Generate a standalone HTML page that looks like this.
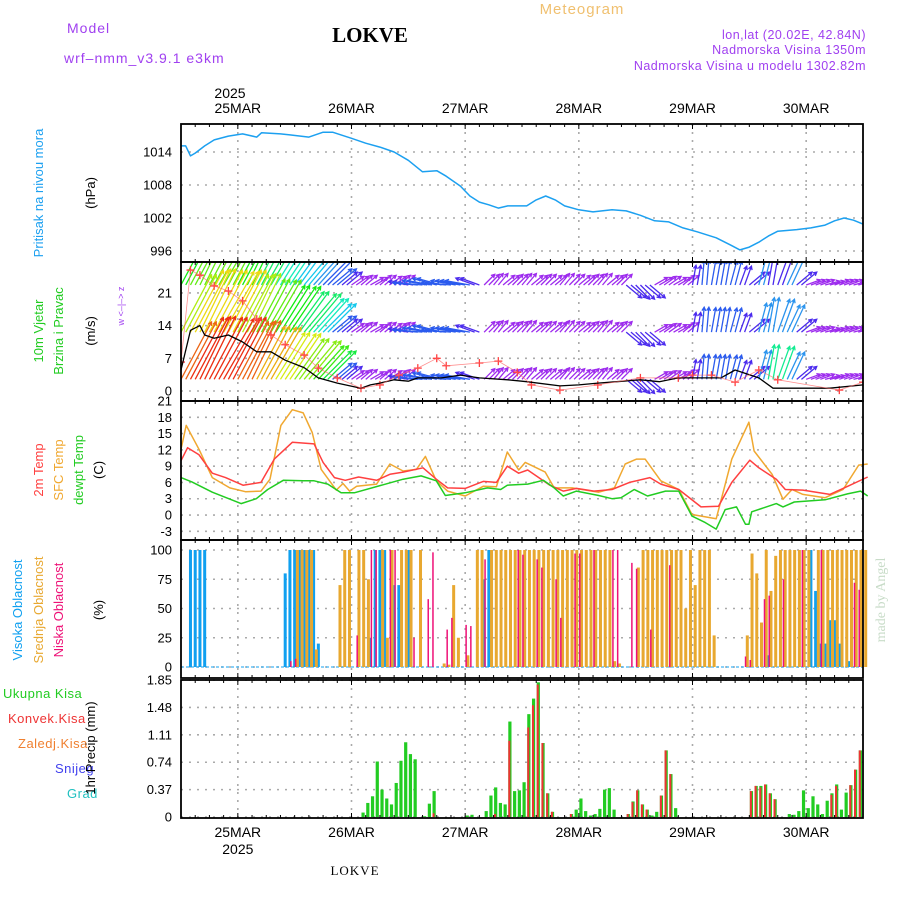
<!DOCTYPE html>
<html><head><meta charset="utf-8"><style>
html,body{margin:0;padding:0;background:#fff;}
svg{display:block;font-family:"Liberation Sans",sans-serif;}
</style></head><body>
<svg id="c" width="900" height="900" xmlns="http://www.w3.org/2000/svg">
<text x="67" y="33" fill="#a040f0" font-size="14" letter-spacing="1">Model</text>
<text x="64" y="63" fill="#a040f0" font-size="14" letter-spacing="1">wrf–nmm_v3.9.1 e3km</text>
<text x="370" y="42" text-anchor="middle" font-family="Liberation Serif,serif" font-weight="bold" font-size="21">LOKVE</text>
<text x="582" y="14" text-anchor="middle" fill="#f0c070" font-size="15" letter-spacing="1">Meteogram</text>
<text x="866" y="39" text-anchor="end" fill="#a040f0" font-size="12.5" letter-spacing="0.5">lon,lat (20.02E, 42.84N)</text>
<text x="866" y="54" text-anchor="end" fill="#a040f0" font-size="12.5" letter-spacing="0.5">Nadmorska Visina 1350m</text>
<text x="866" y="70" text-anchor="end" fill="#a040f0" font-size="12.5" letter-spacing="0.5">Nadmorska Visina u modelu 1302.82m</text>
<text x="230" y="98" text-anchor="middle" font-size="14">2025</text>
<text x="355" y="875" text-anchor="middle" font-family="Liberation Serif,serif" font-size="13" letter-spacing="1">LOKVE</text>
<text transform="translate(885,600) rotate(-90)" text-anchor="middle" fill="#c8dcc8" font-family="Liberation Serif,serif" font-size="14">made by Angel</text>

<text transform="translate(43,193) rotate(-90)" text-anchor="middle" fill="#1ca0f0" font-size="13">Pritisak na nivou mora</text>
<text transform="translate(95,193) rotate(-90)" text-anchor="middle" font-size="13">(hPa)</text>
<text transform="translate(43,331) rotate(-90)" text-anchor="middle" fill="#22cc22" font-size="13">10m Vjetar</text>
<text transform="translate(63,331) rotate(-90)" text-anchor="middle" fill="#22cc22" font-size="13">Brzina i Pravac</text>
<text transform="translate(95,331) rotate(-90)" text-anchor="middle" font-size="13">(m/s)</text>
<text transform="translate(124,306) rotate(-90)" text-anchor="middle" fill="#a040f0" font-size="9">w &lt;–|–&gt; z</text>
<text transform="translate(43,470) rotate(-90)" text-anchor="middle" fill="#ff4040" font-size="13">2m Temp</text>
<text transform="translate(63,470) rotate(-90)" text-anchor="middle" fill="#f0a830" font-size="13">SFC Temp</text>
<text transform="translate(83,470) rotate(-90)" text-anchor="middle" fill="#22cc22" font-size="13">dewpt Temp</text>
<text transform="translate(103,470) rotate(-90)" text-anchor="middle" font-size="13">(C)</text>
<text transform="translate(22,610) rotate(-90)" text-anchor="middle" fill="#10a0f0" font-size="13">Visoka Oblacnost</text>
<text transform="translate(43,610) rotate(-90)" text-anchor="middle" fill="#e8a830" font-size="13">Srednja Oblacnost</text>
<text transform="translate(63,610) rotate(-90)" text-anchor="middle" fill="#ee1177" font-size="13">Niska Oblacnost</text>
<text transform="translate(103,610) rotate(-90)" text-anchor="middle" font-size="13">(%)</text>
<text x="3" y="698" fill="#22cc22" font-size="13" letter-spacing="0.5">Ukupna Kisa</text>
<text x="8" y="723" fill="#ee3333" font-size="13" letter-spacing="0.5">Konvek.Kisa</text>
<text x="18" y="748" fill="#f08030" font-size="13" letter-spacing="0.5">Zaledj.Kisa</text>
<text x="55" y="773" fill="#4040ee" font-size="13" letter-spacing="0.5">Snijeg</text>
<text x="67" y="798" fill="#20c0c0" font-size="13" letter-spacing="0.5">Grad</text>
<text transform="translate(95,748) rotate(-90)" text-anchor="middle" font-size="13">1hr Precip (mm)</text>
<g id="plots"></g>
</svg>
<script>
// ---- data ----
const dayLabels=["25MAR","26MAR","27MAR","28MAR","29MAR","30MAR"];
const dayHours=[12,36,60,84,108,132];
const presTicks=[1014,1008,1002,996];
const presHours=[0,1,2,3,5,7,10,13,16,17,21,23,27,30,32,36,39,42,45,48,51,54,56,59,61,63,65,67,69,73,75,77,79,81,84,87,91,94,97,100,103,106,109,113,116,118,120,122,124,126,130,133,136,138,140,142,144];
const presVals=[1015.1,1015.1,1013.3,1013.8,1015.1,1016.2,1016.9,1017.3,1016.7,1017.5,1017.3,1017.1,1016.7,1017.6,1017.6,1016.5,1015.6,1014.9,1014,1012.5,1010.4,1010.6,1009.6,1007.8,1006,1004.9,1004.4,1003.8,1004.2,1004.2,1005.3,1006,1005.3,1004.2,1003.5,1003.1,1003.5,1003.3,1002.5,1001.5,1001.3,1000.2,999.5,998.4,997.1,996.2,996.7,997.6,998.7,999.6,999.9,1000.2,1000.7,1001.5,1002,1001.6,1000.9];
const windTicks=[0,7,14,21];
const spdHours=[0,2,4,5,7,10,13,16,19,22,26,29,33,38,40,42,45,48,50,55,59,63,69,73,80,84,88,92,97,101,105,108,110,114,117,122,125,130,137,144];
const spdVals=[4.5,13,14,12,11.3,12,10.5,8.4,8.4,6.6,5,2.8,1.7,0.6,1.3,1.7,2.4,2.1,2.8,2.8,3.4,2.8,2.4,2,1.1,1.3,1.7,2,2.4,2,2.8,2.8,2.8,2.8,4.5,2.8,0.6,0.6,0.6,1.3];
const gustHours=[0,2,4,7,10,13,16,19,22,26,29,33,38,42,46,50,54,56,63,67,71,74,80,88,97,105,108,112,117,122,126,139,144];
const gustVals=[6.2,25.9,24.8,22.5,21.4,19.3,15.4,12,9.9,7.7,4.9,2.8,0.6,1.3,3.4,4.9,7,5.4,6,6.4,4,1.3,0.2,1.3,2.8,2.8,3.4,3.4,1.9,4.5,2.4,0.2,1.9];
const arrowSpd=[13,14,14,14,14,14,13,13,12,12,11,11,10,10,9,8,5,4,3,3,3,3,3,3,4,5,5,5,5,5,5,4,3,3,3,3,3,3,3,3,3,3,3,3,3,3,3,4,4,4,3,3,3,3,4,5,5,5,5,4,4,6,7,7,6,4,3,3,3,3,3,3,3];
const arrowDir=[62,62,64,62,60,62,62,64,62,60,58,56,54,50,48,45,40,40,35,40,30,40,35,40,170,175,170,165,175,170,170,160,45,50,40,45,50,40,45,40,50,45,40,45,50,40,45,-40,-45,-40,30,35,30,40,80,85,80,80,75,70,40,75,80,70,65,40,20,20,15,20,20,15,20];
const tempTicks=[-3,0,3,6,9,12,15,18,21];
const t2Hours=[0,1.4,3.8,6.6,9.4,13.1,16.9,19.7,23.5,28.1,30,32.4,34.7,37.5,41.3,44.1,46.9,51.1,53.9,56.3,60,63.8,66.6,68.9,71.3,73.2,77.9,80.7,83.5,87.2,91,94.7,99,101.3,105.1,109.8,113.5,116.3,120.1,122,125.7,127.6,131.3,137,139.8,145];
const t2Vals=[10,12.4,11.1,7.7,6.9,5.5,6,10.3,13.4,13.1,9.7,6.9,6.4,7,6.4,7.5,7.9,8.7,6.6,5,4.9,6.2,6,9,7.7,8.3,5.5,4.4,4.9,4.4,4.7,6,6.9,5.7,4.7,1.5,1.6,6,10.1,8.7,6.6,4.7,4.6,3.8,4.9,7];
const sfcHours=[0,1.1,3.8,6.6,10.3,13.6,16.9,18.8,21.1,23.5,25.8,27.7,29.6,32.8,34.2,35.6,37.1,41.3,44.1,46.9,49.7,51.6,53.9,56.3,60,63.8,66.6,68.9,71.3,72.7,76.9,78.8,82.6,88.2,91.5,93.8,96.2,98,101.3,105.1,107.9,113,116.3,119.9,121,124.8,127.1,129,131.3,136,139.8,143.1,145];
const sfcVals=[12.1,16.5,12.1,6.9,5,4.3,4.4,6.6,16.5,19.4,18.8,15.2,8.4,4.6,5.8,4.4,5.3,5.7,9.4,8.1,8.4,10.8,6.3,4.4,3.5,5.3,5.2,11.6,8.3,9.7,7.9,5,5,4.2,5,9.4,10.3,10.3,6.3,4.7,0.1,-0.7,10.3,17.1,11.8,7.5,2.9,4.7,3.8,3.2,4.7,9.2,9.4];
const dewHours=[0,2.3,6.6,12.7,15.9,18.3,21.6,25.8,28.1,31,33.8,36.6,46.9,50.7,53.9,55.8,60,64.7,67.5,68.9,73.2,76.5,78.8,80.7,83.5,88.2,91,92.9,95.7,98.5,102.3,105.1,107.9,110.7,113,114.9,117.3,119.2,119.9,120.5,125.7,127.1,129.5,136,140.7,143.5,145];
const dewVals=[6.9,6.1,4.2,2.1,3,4.7,6.4,6.3,6.3,5.7,4.1,4.1,6.6,7.2,6.3,3.6,4.1,5,4.7,5.5,5.7,6.4,5,3.5,4.4,3.6,3,3.2,4.7,3.5,4.4,4.4,-0.2,-1.4,-2.6,1,1.5,-1.7,-1.7,0.6,2.1,1.5,2.4,2.8,3.9,4.4,3.5];
const cloudTicks=[0,25,50,75,100];
const highCloud=[0,0,100,100,100,100,0,0,0,0,0,0,0,0,0,0,0,0,0,0,0,0,80,100,100,100,100,100,100,20,0,0,0,0,0,0,0,0,0,0,25,100,100,100,0,70,70,0,100,0,0,0,0,0,0,0,0,0,0,0,0,0,0,0,75,100,0,0,0,0,0,0,0,0,0,0,0,0,0,0,0,0,0,0,0,0,0,0,0,0,0,0,0,0,0,0,0,0,0,0,0,0,0,0,0,0,0,0,0,0,0,0,0,0,0,0,0,0,0,0,0,0,0,0,10,0,0,0,0,0,0,0,0,100,65,20,20,40,40,20,0,5,0,0,0];
const midCloud=[0,0,0,0,0,0,0,0,0,0,0,0,0,0,0,0,0,0,0,0,0,0,0,0,100,100,100,100,15,0,0,0,0,70,100,100,0,100,100,75,0,0,100,25,100,0,100,100,100,0,100,0,0,0,0,3,2,70,25,0,10,0,100,100,0,100,100,100,100,100,100,100,100,100,100,100,100,100,100,100,100,100,100,100,100,100,100,100,100,100,100,5,3,0,0,0,85,100,100,100,100,100,100,100,100,100,50,100,70,100,100,100,27,0,0,0,0,0,0,27,97,80,38,100,65,95,100,100,100,100,100,100,100,0,100,100,100,100,100,100,100,100,100,100,100];
const lowCloud=[0,0,0,0,0,0,0,0,0,0,0,0,0,0,0,0,0,0,0,0,0,0,0,5,7,0,0,0,0,0,0,0,0,0,0,0,0,27,0,0,100,100,0,0,100,100,0,0,0,25,0,0,58,98,0,0,32,42,0,0,36,35,0,0,92,0,0,0,0,0,0,100,96,0,0,92,85,0,0,75,42,0,0,97,97,0,0,100,0,0,0,100,100,0,0,89,84,0,0,32,0,0,0,87,0,0,0,0,0,0,0,0,0,0,0,0,0,0,0,9,6,0,0,58,61,0,0,75,0,0,0,100,0,0,0,100,0,0,0,0,0,0,72,66,0];
const precipTicks=["0","0.37","0.74","1.11","1.48","1.85"];
const precipHours=[38,39,40,41,42,43,44,45,46,47,48,49,51,52,53,60,61,64,65,66,67,68,69,70,71,72,73,74,75,76,77,78,82,83,84,85,86,87,88,89,90,91,94,95,96,97,98,99,100,101,102,103,104,120,121,122,123,124,125,128,129,130,131,132,133,134,135,136,137,138,139,140,141,142,143];
const precipTotal=[0.06,0.19,0.28,0.75,0.37,0.25,0.17,0.46,0.76,1.01,0.85,0.78,0.01,0.18,0.35,0.02,0.03,0.08,0.29,0.4,0.19,0.17,1.29,0.35,0.36,0.47,1.39,1.6,1.82,1.0,0.32,0.07,0.04,0.1,0.25,0.08,0.02,0.04,0.11,0.37,0.39,0.1,0.04,0.21,0.36,0.17,0.1,0.02,0.07,0.29,0.9,0.58,0.12,0.35,0.42,0.42,0.44,0.32,0.24,0.04,0.03,0.08,0.36,0.12,0.28,0.17,0.04,0.22,0.32,0.44,0.1,0.33,0.43,0.64,0.9];
const precipConv=[0,0,0,0,0,0,0,0,0,0,0,0,0,0,0.05,0,0,0,0,0.04,0,0,1.03,0,0,0,1.21,1.51,1.79,1.0,0.32,0.07,0.04,0,0,0,0,0,0,0,0,0,0.04,0.2,0.36,0.17,0.1,0,0,0.29,0.9,0.58,0,0.35,0.42,0.4,0.44,0.32,0.24,0,0,0,0,0,0,0,0,0,0.3,0.42,0,0,0.43,0.64,0.9];

// ---- helpers ----
const NS="http://www.w3.org/2000/svg";
const G=document.getElementById('plots');
const X0=181,X1=863,HMAX=144;
function x(h){return X0+h*(X1-X0)/HMAX;}
function mk(tag,attrs,parent){const e=document.createElementNS(NS,tag);for(const k in attrs)e.setAttribute(k,attrs[k]);(parent||G).appendChild(e);return e;}
const yP=v=>152+(1014-v)*5.5;
const yW=v=>391-v*4.67;
const yT=v=>401+(21-v)*5.43;
const yC=v=>667-v*1.17;
const yR=v=>817-v*74;
const panels=[[124,262,'pressure'],[262,401,'wind'],[401,540,'temperature'],[540,678,'cloud'],[680,818,'precip']];
function hgrid(yv){const l=mk('line',{x1:X0,x2:X1,y1:yv,y2:yv,stroke:'#aaa','stroke-width':1.6,'stroke-dasharray':'2 6'});

}
function tick(txt,yv){const t=mk('text',{x:172,y:yv+4.5,'text-anchor':'end','font-size':13});t.textContent=txt;

}
panels.forEach(p=>{dayHours.forEach(h=>{const l=mk('line',{x1:x(h),x2:x(h),y1:p[0],y2:p[1],stroke:'#aaa','stroke-width':1.6,'stroke-dasharray':'2 6'});

});});
presTicks.forEach(v=>{hgrid(yP(v));tick(String(v),yP(v));});
windTicks.forEach(v=>{hgrid(yW(v));tick(String(v),yW(v));});
tempTicks.forEach(v=>{hgrid(yT(v));tick(String(v),yT(v));});
cloudTicks.forEach(v=>{hgrid(yC(v));tick(String(v),yC(v));});
precipTicks.forEach(v=>{hgrid(yR(+v));tick(v,yR(+v));});
function poly(hs,vs,yf,color,name,w){const pts=hs.map((h,i)=>x(h).toFixed(1)+','+yf(vs[i]).toFixed(1)).join(' ');
const p=mk('polyline',{points:pts,fill:'none',stroke:color,'stroke-width':w||1.5,'stroke-linejoin':'round'});

return p;}
poly(presHours,presVals,yP,'#1ca0f0','pressure-line',1.5);
// wind
const defs=mk('defs',{});const cp=mk('clipPath',{id:'wclip'},defs);mk('rect',{x:X0,y:262,width:X1-X0,height:139},cp);
const wg=mk('g',{'clip-path':'url(#wclip)'});


function spdColor(s){const stops=[[3,275],[5,225],[7,190],[10,120],[13,55],[14,30],[16,0]];
let hue=stops[0][1];if(s>=16)hue=0;else for(let i=0;i<stops.length-1;i++){if(s>=stops[i][0]&&s<=stops[i+1][0]){const f=(s-stops[i][0])/(stops[i+1][0]-stops[i][0]);hue=stops[i][1]+f*(stops[i+1][1]-stops[i][1]);}}
return 'hsl('+hue+',85%,'+(hue>200?55:50)+'%)';}
const rows=[[22.7,-3],[12.6,-1],[2.5,1.5]];
rows.forEach(r=>{arrowSpd.forEach((s,i)=>{[0,1].forEach(o=>{const h=i*2+o;if(h>HMAX)return;const L=s*5;const a=arrowDir[i]*Math.PI/180;
const x1=x(h),y1=yW(r[0]),x2=x1+L*Math.cos(a),y2=y1-L*Math.sin(a);const c=spdColor(s>6?s+r[1]:s);
const ar=mk('path',{d:`M${x1},${y1}L${x2},${y2}M${x2-4*Math.cos(a-0.5)},${y2+4*Math.sin(a-0.5)}L${x2},${y2}L${x2-4*Math.cos(a+0.5)},${y2+4*Math.sin(a+0.5)}`,stroke:c,'stroke-width':1.3,fill:'none'},wg);

});});});
poly(spdHours,spdVals,yW,'#000','wind-speed-line',1.3);
gustHours.forEach((h,i)=>{const cx=x(h),cy=yW(gustVals[i]);const g=mk('path',{d:`M${cx-4},${cy}h8M${cx},${cy-4}v8`,stroke:'#ff4040','stroke-width':1.3},wg);

});
poly(gustHours,gustVals,yW,'#ff6060','gust-line',0.8).setAttribute('opacity','0.7');
// temperature
poly(sfcHours,sfcVals,yT,'#f0a830','sfc-temp-line',1.5);
poly(t2Hours,t2Vals,yT,'#ff4040','2m-temp-line',1.5);
poly(dewHours,dewVals,yT,'#22cc22','dewpoint-line',1.5);
// cloud bars
function cbar(h,v,color,dx,w,name){if(v<=0)return;const b=mk('rect',{x:x(h)+dx,y:yC(v),width:w,height:yC(0)-yC(v),fill:color});

}
mk('line',{x1:X0,x2:X1,y1:667,y2:667,stroke:'#10a0f0','stroke-width':1,'stroke-dasharray':'3 2'});
highCloud.forEach((v,h)=>cbar(h,v,'#10a0f0',-1.5,3,'high-cloud-bar'));
midCloud.forEach((v,h)=>cbar(h,v,'#e8a830',1.2,3,'mid-cloud-bar'));
lowCloud.forEach((v,h)=>cbar(h,v,'#ee1177',0.2,1.5,'low-cloud-bar'));
// precip bars
precipHours.forEach((h,i)=>{const v=precipTotal[i];const b=mk('rect',{x:x(h)+0.5,y:yR(v),width:3.2,height:yR(0)-yR(v),fill:'#22cc22'});


const c=precipConv[i];if(c>0){const r=mk('rect',{x:x(h)+0.5,y:yR(c),width:2,height:yR(0)-yR(c),fill:'#ee3333'});

}});
// borders and ticks
panels.forEach(p=>{const r=mk('rect',{x:X0,y:p[0],width:X1-X0,height:p[1]-p[0],fill:'none',stroke:'#000','stroke-width':1.8});


for(let h=0;h<=HMAX;h+=3){const big=(h-12)%24===0;mk('line',{x1:x(h),x2:x(h),y1:p[1],y2:p[1]-(big?5:3),stroke:'#000','stroke-width':1});mk('line',{x1:x(h),x2:x(h),y1:p[0],y2:p[0]+(big?5:3),stroke:'#000','stroke-width':1});}});
dayHours.forEach((h,i)=>{const t=mk('text',{x:x(h),y:113,'text-anchor':'middle','font-size':14});t.textContent=dayLabels[i];


const b=mk('text',{x:x(h),y:837,'text-anchor':'middle','font-size':14});b.textContent=dayLabels[i];

});
const yr=mk('text',{x:x(12),y:854,'text-anchor':'middle','font-size':14});yr.textContent='2025';


</script>
</body></html>
